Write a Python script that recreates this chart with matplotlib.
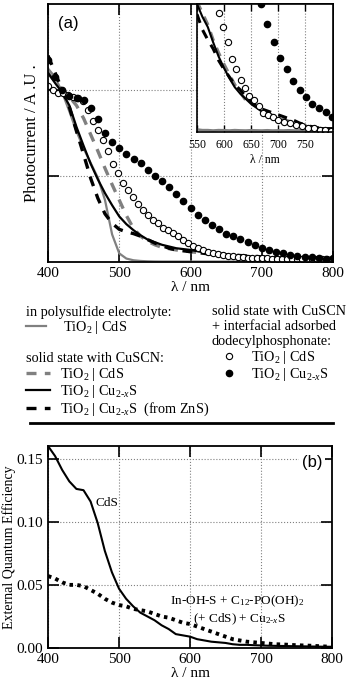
import numpy as np
import matplotlib.pyplot as plt
from matplotlib.lines import Line2D

plt.rcParams['font.family'] = 'Liberation Serif'
plt.rcParams['mathtext.fontset'] = 'custom'
plt.rcParams['mathtext.rm'] = 'Liberation Serif'
plt.rcParams['mathtext.it'] = 'Liberation Serif:italic'
plt.rcParams['mathtext.bf'] = 'Liberation Serif:bold'

# ---- (a) photocurrent spectra, 10 nm steps 400..800 ----
lam = np.arange(400, 801, 10)
poly_cds = [2.25, 2.15, 1.97, 1.75, 1.52, 1.32, 1.15, 0.98, 0.72, 0.32, 0.10, 0.04, 0.02, 0.012, 0.008,
            0.006, 0.005, 0.005, 0.005, 0.005, 0.005, 0.005, 0.005, 0.005, 0.005, 0.005, 0.005, 0.005,
            0.005, 0.005, 0.005, 0.005, 0.005, 0.005, 0.005, 0.005, 0.005, 0.005, 0.005, 0.005, 0.005]
ss_cds = [2.2, 2.1, 2.0, 1.92, 1.82, 1.67, 1.48, 1.29, 1.09, 0.9, 0.72, 0.54, 0.39, 0.3, 0.24, 0.2,
          0.17, 0.155, 0.14, 0.13, 0.12, 0.11, 0.1, 0.09, 0.085, 0.08, 0.072, 0.065, 0.06, 0.055, 0.05,
          0.046, 0.042, 0.038, 0.035, 0.032, 0.03, 0.028, 0.026, 0.025, 0.024]
ss_cu = [2.2, 2.08, 1.97, 1.82, 1.57, 1.35, 1.14, 0.96, 0.8, 0.66, 0.53, 0.44, 0.37, 0.31, 0.26, 0.23,
         0.2, 0.18, 0.16, 0.15, 0.14, 0.125, 0.11, 0.1, 0.09, 0.08, 0.075, 0.068, 0.06, 0.055, 0.05,
         0.047, 0.044, 0.04, 0.038, 0.036, 0.034, 0.032, 0.031, 0.03, 0.03]
ss_cu_zns = [2.4, 2.2, 2.0, 1.8, 1.52, 1.25, 0.97, 0.74, 0.56, 0.45, 0.38, 0.35, 0.33, 0.3, 0.26, 0.22,
             0.19, 0.16, 0.14, 0.13, 0.12, 0.11, 0.1, 0.095, 0.09, 0.085, 0.08, 0.075, 0.07, 0.065, 0.06,
             0.055, 0.05, 0.047, 0.044, 0.04, 0.038, 0.035, 0.033, 0.03, 0.03]
dp_cu = [2.35, 2.15, 2.0, 1.93, 1.91, 1.88, 1.79, 1.66, 1.5, 1.39, 1.32, 1.26, 1.2, 1.15, 1.07, 1.0,
         0.94, 0.87, 0.79, 0.71, 0.63, 0.55, 0.49, 0.43, 0.38, 0.33, 0.3, 0.27, 0.23, 0.2, 0.16,
         0.14, 0.12, 0.1, 0.08, 0.07, 0.06, 0.055, 0.045, 0.04, 0.045]
lam_open = np.arange(400, 801, 7)
dp_cds = [2.05, 2.0, 1.97, 1.96, 1.94, 1.92, 1.91, 1.87, 1.77, 1.64, 1.54, 1.42, 1.29, 1.14, 1.03,
          0.92, 0.84, 0.76, 0.68, 0.6, 0.55, 0.49, 0.45, 0.40, 0.37, 0.34, 0.30, 0.26, 0.22, 0.19,
          0.16, 0.14, 0.12, 0.11, 0.09, 0.08, 0.07, 0.065, 0.06, 0.055, 0.05, 0.048, 0.045, 0.043,
          0.042, 0.04, 0.04, 0.038, 0.037, 0.036, 0.035, 0.035, 0.034, 0.034, 0.033, 0.033, 0.032, 0.032]

# ---- inset (relative scale) ----
lam_in = np.arange(550, 801, 10)
in_poly_cds = [0.02, 0.015, 0.015, 0.012, 0.015, 0.014, 0.012, 0.015, 0.013, 0.012, 0.014, 0.013, 0.012,
               0.014, 0.012, 0.013, 0.012, 0.014, 0.012, 0.013, 0.012, 0.013, 0.012, 0.012, 0.013, 0.012]
in_ss_cds = [1.02, 0.93, 0.84, 0.72, 0.62, 0.53, 0.45, 0.37, 0.31, 0.25, 0.22, 0.2, 0.18, 0.15, 0.13,
             0.115, 0.1, 0.085, 0.07, 0.06, 0.05, 0.04, 0.033, 0.028, 0.025, 0.022]
in_ss_cu = [1.0, 0.9, 0.82, 0.70, 0.59, 0.50, 0.42, 0.35, 0.30, 0.26, 0.22, 0.19, 0.16, 0.13, 0.11,
            0.10, 0.085, 0.072, 0.06, 0.05, 0.043, 0.036, 0.031, 0.03, 0.03, 0.03]
in_ss_cu_zns = [0.92, 0.8, 0.72, 0.65, 0.56, 0.49, 0.43, 0.37, 0.33, 0.28, 0.24, 0.2, 0.18, 0.165, 0.15,
                0.135, 0.12, 0.105, 0.09, 0.07, 0.058, 0.045, 0.035, 0.03, 0.025, 0.02]
lam_in_open = [590, 598, 607, 615, 623, 631, 639, 647, 656, 664, 672, 681, 690, 700, 711, 722, 733,
               744, 755, 766, 777, 788, 798]
in_dp_cds = [0.93, 0.82, 0.70, 0.57, 0.49, 0.41, 0.34, 0.28, 0.25, 0.2, 0.15, 0.13, 0.12, 0.094, 0.08,
             0.07, 0.055, 0.045, 0.035, 0.028, 0.018, 0.012, 0.01]
lam_in_filled = [668, 680, 692, 704, 716, 728, 741, 752, 764, 776, 789, 800]
in_dp_cu = [1.0, 0.84, 0.70, 0.58, 0.49, 0.40, 0.33, 0.27, 0.22, 0.19, 0.16, 0.12]

# ---- (b) external quantum efficiency ----
lam_b = np.arange(400, 801, 10)
eqe_cds = [0.160, 0.152, 0.141, 0.132, 0.126, 0.125, 0.116, 0.099, 0.077, 0.060, 0.047, 0.039, 0.033,
           0.028, 0.025, 0.022, 0.018, 0.015, 0.011, 0.010, 0.009, 0.007, 0.006, 0.005, 0.0045, 0.004,
           0.003, 0.0025, 0.0025, 0.0022, 0.002, 0.0018, 0.0017, 0.0016, 0.0015, 0.0014, 0.0013,
           0.0012, 0.0011, 0.001, 0.001]
eqe_inoh = [0.057, 0.055, 0.052, 0.050, 0.050, 0.049, 0.046, 0.043, 0.039, 0.036, 0.034, 0.033, 0.031,
            0.030, 0.029, 0.027, 0.025, 0.024, 0.022, 0.020, 0.019, 0.017, 0.015, 0.013, 0.011, 0.009,
            0.007, 0.006, 0.005, 0.0045, 0.004, 0.0035, 0.003, 0.0028, 0.0025, 0.0022, 0.002, 0.0018,
            0.0015, 0.0012, 0.001]

gray = '#808080'
cu = r'TiO$_2$ | Cu$_{2\text{-}x}$S'

fig = plt.figure(figsize=(3.51, 6.86), dpi=100)

# ---------------- panel (a) ----------------
ax = fig.add_axes([48/351, 1 - 262/686, 285/351, 258/686])
ax.plot(lam, poly_cds, color=gray, lw=1.6, label='TiO$_2$ | CdS')
ax.plot(lam, ss_cds, color=gray, lw=2.4, ls=(0, (3, 2.5)), label='TiO$_2$ | CdS')
ax.plot(lam, ss_cu, color='black', lw=1.6, label=cu)
ax.plot(lam, ss_cu_zns, color='black', lw=2.4, ls=(0, (3, 2.5)), label=cu + '  (from ZnS)')
ax.plot(lam_open, dp_cds, 'o', ms=4.5, mfc='white', mec='black', mew=0.8, label='TiO$_2$ | CdS')
ax.plot(lam, dp_cu, 'o', ms=4.5, color='black', label=cu)
ax.set_xlim(400, 800)
ax.set_ylim(0, 3)
ax.set_xticks([400, 500, 600, 700, 800])
ax.set_yticks([1, 2])
ax.set_yticklabels([])
ax.grid(True, ls=':', color='gray', lw=0.8)
ax.tick_params(direction='in', length=8, width=1.2, top=True, right=True, labelsize=11)
for s in ax.spines.values():
    s.set_linewidth(1.3)
ax.set_xlabel('λ / nm', fontsize=11, labelpad=1)
ax.set_ylabel('Photocurrent / A .U .', fontsize=12, labelpad=2)
ax.text(0.035, 0.955, '(a)', transform=ax.transAxes, family='Liberation Sans', fontsize=12,
        va='top', ha='left')
lines = ax.get_lines()

# inset
axi = fig.add_axes([197/351, 1 - 132/686, 136/351, 128/686])
axi.set_facecolor('white')
axi.plot(lam_in, in_poly_cds, color=gray, lw=1.8)
axi.plot(lam_in, in_ss_cds, color=gray, lw=2.2, ls=(0, (3, 2.5)))
axi.plot(lam_in, in_ss_cu, color='black', lw=1.5)
axi.plot(lam_in, in_ss_cu_zns, color='black', lw=2.2, ls=(0, (3, 2.5)))
axi.plot(lam_in_open, in_dp_cds, 'o', ms=4.5, mfc='white', mec='black', mew=0.8)
axi.plot(lam_in_filled, in_dp_cu, 'o', ms=4.5, color='black')
axi.set_xlim(550, 802)
axi.set_ylim(0, 1.0)
axi.set_xticks([550, 600, 650, 700, 750])
axi.set_yticks([])
axi.grid(True, axis='x', ls=':', color='gray', lw=0.8)
axi.tick_params(direction='in', length=5, width=1.0, top=True, labelsize=8.5, pad=5)
for s in axi.spines.values():
    s.set_linewidth(1.2)
axi.set_xlabel('λ / nm', fontsize=8.5, labelpad=2)

# legends
leg_kw = dict(frameon=False, fontsize=10.3, title_fontsize=10.3, borderpad=0, borderaxespad=0,
              loc='upper left', alignment='left', labelspacing=0.05)
leg1 = fig.legend([lines[0]], ['TiO$_2$ | CdS'], title='in polysulfide electrolyte:',
                  bbox_to_anchor=(26/351, 1 - 305/686), handlelength=1.4, handletextpad=1.2, **leg_kw)
leg2 = fig.legend(lines[1:4], [l.get_label() for l in lines[1:4]], title='solid state with CuSCN:',
                  bbox_to_anchor=(26/351, 1 - 352/686), handlelength=1.7, handletextpad=0.7, **leg_kw)
leg3 = fig.legend(lines[4:6], [l.get_label() for l in lines[4:6]],
                  title='solid state with CuSCN\n+ interfacial adsorbed\ndodecylphosphonate:',
                  bbox_to_anchor=(212/351, 1 - 305/686), handlelength=2.4, handletextpad=0.3, **leg_kw)
fig.add_artist(Line2D([30/351, 333/351], [1 - 423/686, 1 - 423/686], color='black', lw=2.0))

# ---------------- panel (b) ----------------
bx = fig.add_axes([48/351, 1 - 648/686, 284/351, 202/686])
bx.plot(lam_b, eqe_cds, color='black', lw=1.5)
bx.plot(lam_b, eqe_inoh, color='black', lw=2.8, ls=(0, (0.9, 1.1)))
bx.set_xlim(400, 800)
bx.set_ylim(0, 0.16)
bx.set_xticks([400, 500, 600, 700, 800])
bx.set_yticks([0.0, 0.05, 0.10, 0.15])
bx.set_yticklabels(['0.00', '0.05', '0.10', '0.15'])
bx.grid(True, ls=':', color='gray', lw=0.8)
bx.tick_params(direction='in', length=8, width=1.2, top=True, right=True, labelsize=11)
for s in bx.spines.values():
    s.set_linewidth(1.3)
bx.set_xlabel('λ / nm', fontsize=11, labelpad=1)
bx.set_ylabel('External Quantum Efficiency', fontsize=10, labelpad=0.5)
bx.text(0.965, 0.955, '(b)', transform=bx.transAxes, family='Liberation Sans', fontsize=12,
        va='top', ha='right', bbox=dict(facecolor='white', edgecolor='none', pad=2))
bx.text(483, 0.115, 'CdS', fontsize=9.5, ha='center', va='center')
bx.text(667, 0.037, 'In-OH-S + C$_{12}$-PO(OH)$_2$', fontsize=9.5, ha='center', va='center')
bx.text(670, 0.0225, '(+ CdS) + Cu$_{2\\text{-}x}$S', fontsize=9.5, ha='center', va='center')

fig.savefig('out.png', dpi=100)
